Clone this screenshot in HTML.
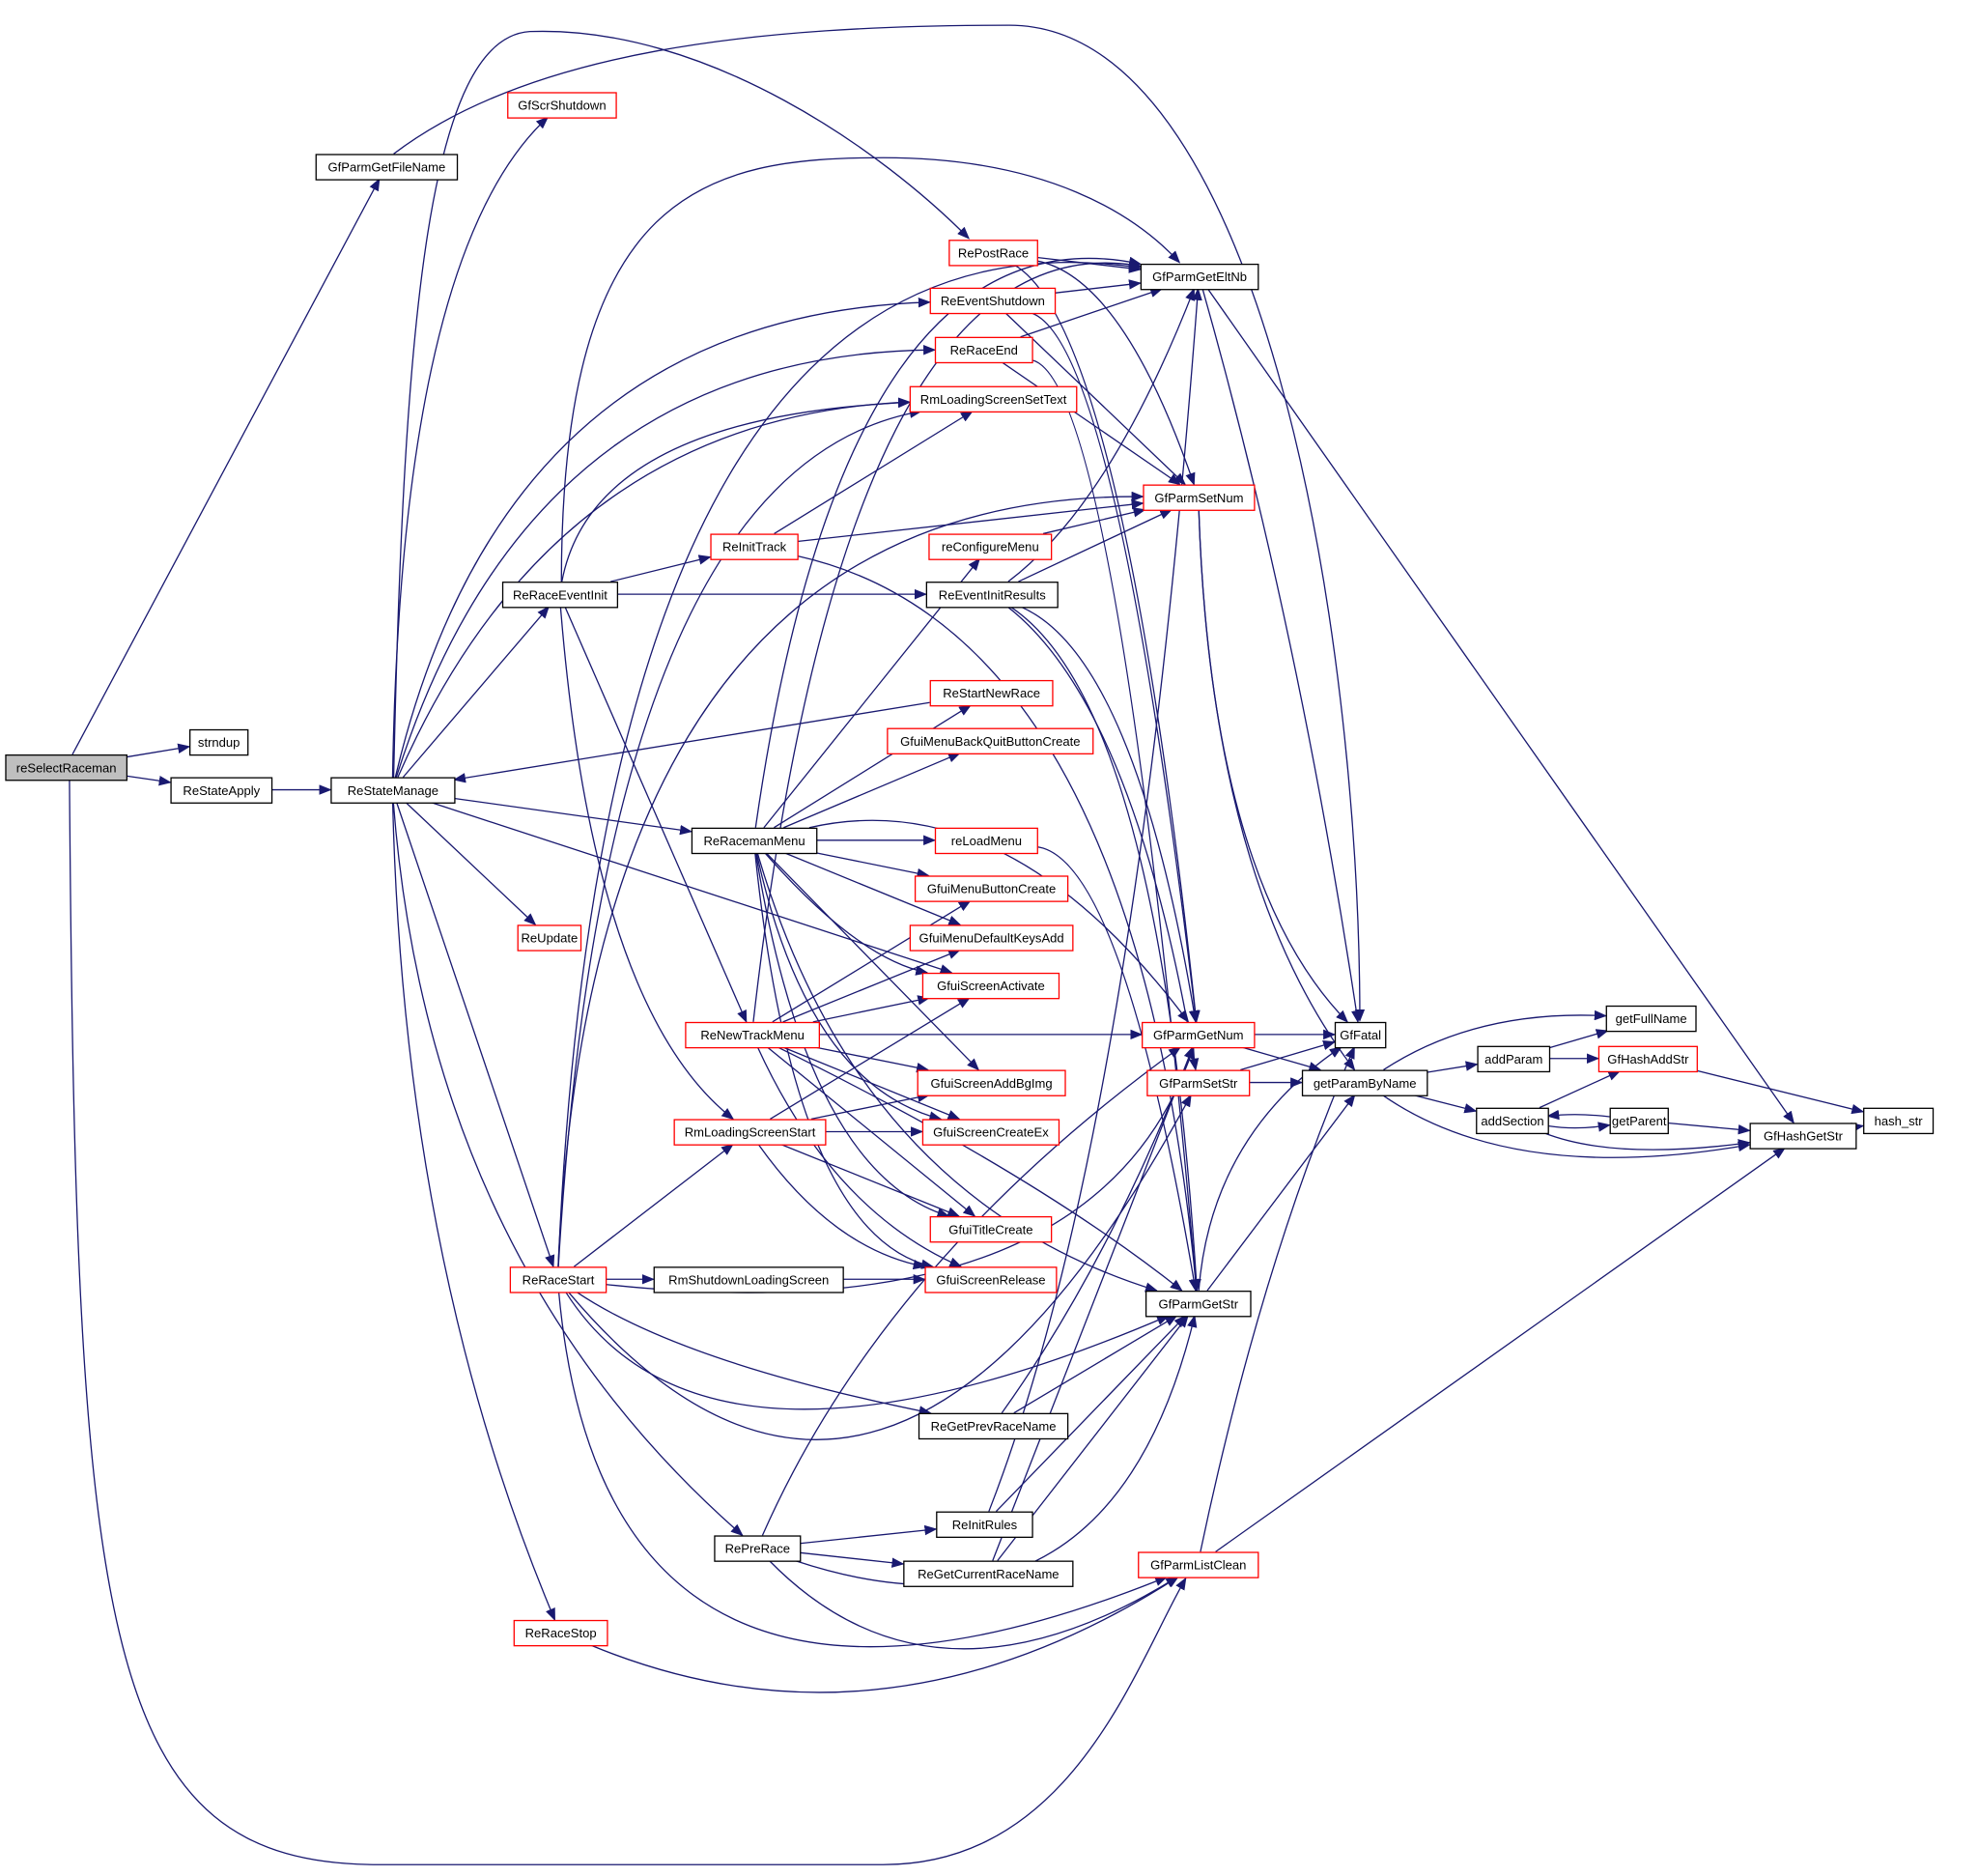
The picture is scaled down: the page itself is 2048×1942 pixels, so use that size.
<!DOCTYPE html>
<html><head><meta charset="utf-8">
<style>
html,body{margin:0;padding:0;background:#fff;}
svg{display:block;}
text{font-family:"Liberation Sans",sans-serif;font-size:10px;}
</style></head>
<body>
<svg id="g" xmlns="http://www.w3.org/2000/svg" width="2048" height="1942" viewBox="0 0 1568 1487">
<defs><marker id="a" markerWidth="10" markerHeight="8" refX="9" refY="4" orient="auto" markerUnits="userSpaceOnUse"><path d="M0,0 L10,4 L0,8 z" fill="#191970"/></marker></defs>
<g id="E" fill="none" stroke="#191970" stroke-width="1"></g>
<g id="N"></g>
</svg>
<script>
var N={
reSelectRaceman:[4,598,96,'g'],strndup:[150,578,46],ReStateApply:[135,616,80],ReStateManage:[262,616,98],
GfParmGetFileName:[250,122,112],GfScrShutdown:[402,73,86,'r'],RePostRace:[752,190,70,'r'],ReEventShutdown:[737,228,99,'r'],
ReRaceEnd:[741,267,77,'r'],RmLoadingScreenSetText:[721,306,132,'r'],GfParmGetEltNb:[904,209,93],GfParmSetNum:[906,384,88,'r'],
ReInitTrack:[563,423,69,'r'],reConfigureMenu:[736,423,97,'r'],ReRaceEventInit:[398,461,91],ReEventInitResults:[734,461,104],
ReStartNewRace:[737,539,97,'r'],GfuiMenuBackQuitButtonCreate:[703,577,163,'r'],ReRacemanMenu:[548,656,99],reLoadMenu:[741,656,81,'r'],
GfuiMenuButtonCreate:[725,694,121,'r'],GfuiMenuDefaultKeysAdd:[721,733,129,'r'],GfuiScreenActivate:[731,771,108,'r'],ReUpdate:[410,733,50,'r'],
ReNewTrackMenu:[543,810,106,'r'],GfParmGetNum:[905,810,89,'r'],GfFatal:[1058,810,40],GfuiScreenAddBgImg:[727,848,117,'r'],
GfParmSetStr:[909,848,81,'r'],getParamByName:[1032,848,99],getFullName:[1273,797,71],addParam:[1171,829,57],GfHashAddStr:[1267,829,78,'r'],
addSection:[1170,878,57],getParent:[1276,878,46],GfHashGetStr:[1387,890,84],hash_str:[1477,878,55],RmLoadingScreenStart:[534,887,120,'r'],
GfuiScreenCreateEx:[731,887,108,'r'],GfuiTitleCreate:[737,964,96,'r'],RmShutdownLoadingScreen:[518,1004,150],GfuiScreenRelease:[733,1004,104,'r'],
ReRaceStart:[404,1004,76,'r'],GfParmGetStr:[908,1023,83],ReGetPrevRaceName:[728,1120,118],ReInitRules:[742,1198,76],RePreRace:[566,1217,68],
ReGetCurrentRaceName:[716,1237,134],GfParmListClean:[902,1230,95,'r'],ReRaceStop:[407,1284,74,'r']
};
var H=20;
function c(n){var b=N[n];return [b[0]+b[2]/2,b[1]+H/2];}
function clip(n,p){var b=N[n],o=c(n),dx=p[0]-o[0],dy=p[1]-o[1];var hw=b[2]/2,hh=H/2;var t=Math.min(dx?hw/Math.abs(dx):1e9,dy?hh/Math.abs(dy):1e9);if(t>1)t=1;return [o[0]+dx*t,o[1]+dy*t];}
var E=[
['reSelectRaceman','GfParmGetFileName'],['reSelectRaceman','strndup'],['reSelectRaceman','ReStateApply'],
['ReStateApply','ReStateManage'],
['ReStateManage','GfScrShutdown',[318,200]],['ReStateManage','ReEventShutdown',[400,250]],['ReStateManage','ReRaceEnd',[420,280]],
['ReStateManage','RmLoadingScreenSetText',[440,330]],['ReStateManage','ReRaceEventInit'],['ReStateManage','ReRacemanMenu'],
['ReStateManage','GfuiScreenActivate'],['ReStateManage','ReUpdate'],['ReStateManage','ReRaceStart'],['ReStateManage','RePreRace',[340,1000]],
['ReStateManage','ReRaceStop',[320,1000]],['ReStartNewRace','ReStateManage'],
['ReRaceEventInit','RmLoadingScreenSetText',[470,330]],['ReRaceEventInit','ReInitTrack'],['ReRaceEventInit','ReEventInitResults'],
['ReRaceEventInit','ReNewTrackMenu'],['ReRaceEventInit','RmLoadingScreenStart',[470,800]],
['ReInitTrack','RmLoadingScreenSetText'],['ReInitTrack','GfParmSetNum'],['ReInitTrack','GfParmGetStr',[900,500]],
['reConfigureMenu','GfParmSetNum'],
['ReEventInitResults','GfParmGetEltNb',[880,400]],['ReEventInitResults','GfParmSetNum'],['ReEventInitResults','GfParmGetNum',[900,520]],
['ReEventInitResults','GfParmGetStr',[920,560]],['ReEventInitResults','GfParmSetStr',[900,560]],
['RePostRace','GfParmGetEltNb'],['RePostRace','GfParmSetNum',[890,220]],['RePostRace','GfParmGetNum',[890,260]],
['ReEventShutdown','GfParmGetEltNb'],['ReEventShutdown','GfParmSetNum'],['ReEventShutdown','GfParmGetNum',[885,270]],
['ReRaceEnd','GfParmGetEltNb'],['ReRaceEnd','GfParmSetNum'],['ReRaceEnd','GfParmGetStr',[885,300]],
['GfParmGetEltNb','GfFatal',[1030,500]],['GfParmGetEltNb','GfHashGetStr'],
['GfParmSetNum','GfFatal',[960,700]],['GfParmSetNum','getParamByName',[960,700]],
['GfParmGetNum','GfFatal'],['GfParmGetNum','getParamByName'],
['GfParmSetStr','GfFatal'],['GfParmSetStr','getParamByName'],
['GfParmGetStr','GfFatal',[960,900]],['GfParmGetStr','getParamByName'],
['getParamByName','getFullName',[1170,800]],['getParamByName','addParam'],['getParamByName','addSection'],['getParamByName','GfHashGetStr',[1200,940]],
['addParam','getFullName'],['addParam','GfHashAddStr'],['addSection','GfHashAddStr'],['addSection','getParent',[1250,896]],['addSection','GfHashGetStr',[1280,920]],
['getParent','addSection',[1250,882]],['getParent','GfHashGetStr'],['GfHashAddStr','hash_str'],['GfHashGetStr','hash_str'],
['GfParmListClean','GfFatal',[1000,1000]],['GfParmListClean','GfHashGetStr'],
['ReRacemanMenu','reConfigureMenu'],['ReRacemanMenu','ReStartNewRace'],['ReRacemanMenu','GfuiMenuBackQuitButtonCreate'],['ReRacemanMenu','reLoadMenu'],
['ReRacemanMenu','GfuiMenuButtonCreate'],['ReRacemanMenu','GfuiMenuDefaultKeysAdd'],['ReRacemanMenu','GfuiScreenActivate',[680,760]],
['ReRacemanMenu','GfuiScreenAddBgImg'],['ReRacemanMenu','GfuiScreenCreateEx',[640,860]],['ReRacemanMenu','GfuiTitleCreate',[640,930]],
['ReRacemanMenu','GfuiScreenRelease',[630,980]],['ReRacemanMenu','GfParmGetStr',[680,950]],['ReRacemanMenu','GfParmGetNum',[800,620]],
['ReRacemanMenu','GfParmGetEltNb',[670,160]],
['reLoadMenu','GfParmGetStr',[890,680]],
['ReNewTrackMenu','GfParmGetEltNb',[670,170]],['ReNewTrackMenu','GfuiMenuButtonCreate'],['ReNewTrackMenu','GfuiMenuDefaultKeysAdd'],['ReNewTrackMenu','GfuiScreenActivate'],
['ReNewTrackMenu','GfParmGetNum'],['ReNewTrackMenu','GfuiScreenAddBgImg'],['ReNewTrackMenu','GfuiScreenCreateEx'],['ReNewTrackMenu','GfuiTitleCreate'],
['ReNewTrackMenu','GfuiScreenRelease',[660,960]],['ReNewTrackMenu','GfParmGetStr',[820,930]],
['RmLoadingScreenStart','GfuiScreenActivate'],['RmLoadingScreenStart','GfuiScreenAddBgImg'],['RmLoadingScreenStart','GfuiScreenCreateEx'],
['RmLoadingScreenStart','GfuiTitleCreate'],['RmLoadingScreenStart','GfuiScreenRelease',[660,990]],
['RmShutdownLoadingScreen','GfuiScreenRelease'],
['ReRaceStart','RmLoadingScreenSetText',[480,370]],['ReRaceStart','GfParmSetNum',[470,390]],['ReRaceStart','GfParmGetEltNb',[480,150]],
['ReRaceStart','RmLoadingScreenStart'],['ReRaceStart','RmShutdownLoadingScreen'],['ReRaceStart','GfParmGetNum',[870,1060]],
['ReRaceStart','ReGetPrevRaceName',[540,1080]],['ReRaceStart','GfParmGetStr',[560,1200]],['ReRaceStart','GfParmSetStr',[700,1320]],
['ReRaceStart','GfParmListClean',[480,1430]],
['ReGetPrevRaceName','GfParmGetStr'],['ReGetPrevRaceName','GfParmGetNum',[880,1000]],
['RePreRace','GfParmGetNum',[700,1000]],['RePreRace','ReInitRules'],['RePreRace','ReGetCurrentRaceName'],['RePreRace','GfParmGetStr',[880,1320]],
['RePreRace','GfParmListClean',[740,1370]],
['ReInitRules','GfParmGetStr'],['ReInitRules','GfParmGetEltNb',[900,900]],
['ReGetCurrentRaceName','GfParmGetStr'],['ReGetCurrentRaceName','GfParmGetNum',[880,1000]],
['ReRaceStop','GfParmListClean',[700,1400]]
];
var ns='http://www.w3.org/2000/svg',eg=document.getElementById('E'),ng=document.getElementById('N');
function mk(t,a,p){var e=document.createElementNS(ns,t);for(var k in a)e.setAttribute(k,a[k]);p.appendChild(e);return e;}
E.forEach(function(e){var a=c(e[0]),b=c(e[1]);var d;
 if(e[2]){var s=clip(e[0],e[2]),t=clip(e[1],e[2]);d='M'+s+' Q'+e[2]+' '+t;}
 else{var s=clip(e[0],b),t=clip(e[1],a);d='M'+s+' L'+t;}
 mk('path',{d:d,'marker-end':'url(#a)'},eg);});
mk('path',{d:'M55,618 C60,1300 80,1478 300,1478 L700,1478 C850,1478 900,1320 940,1251','marker-end':'url(#a)'},eg);
mk('path',{d:'M312,122 C420,40 600,20 800,20 C1000,20 1078,500 1078,809','marker-end':'url(#a)'},eg);
mk('path',{d:'M312,616 C320,250 340,30 420,25 C560,20 700,120 768,189','marker-end':'url(#a)'},eg);
mk('path',{d:'M445,461 C445,150 560,125 700,125 C830,125 900,170 935,208','marker-end':'url(#a)'},eg);
Object.keys(N).forEach(function(k){var b=N[k];
 mk('rect',{x:b[0]+.5,y:b[1]+.5,width:b[2],height:H,fill:b[3]=='g'?'#bfbfbf':'#fff',stroke:b[3]=='r'?'#ff0000':'#000','stroke-width':1},ng);
 var t=mk('text',{x:b[0]+b[2]/2+.5,y:b[1]+14,'text-anchor':'middle',fill:'#000'},ng);t.textContent=k;});
</script>
</body></html>
